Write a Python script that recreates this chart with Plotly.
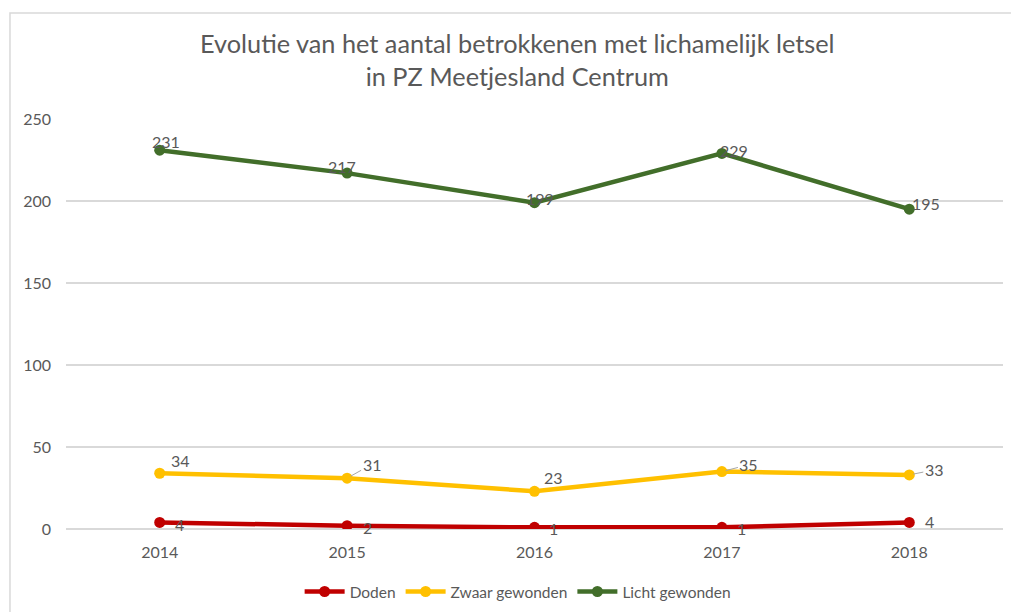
import plotly.graph_objects as go

years = ["2014", "2015", "2016", "2017", "2018"]
doden = [4, 2, 1, 1, 4]
zwaar = [34, 31, 23, 35, 33]
licht = [231, 217, 199, 229, 195]
series_names = ["Doden", "Zwaar gewonden", "Licht gewonden"]
title_lines = ["Evolutie van het aantal betrokkenen met lichamelijk letsel", "in PZ Meetjesland Centrum"]

colors = ["#C00000", "#FFC000", "#426E2A"]
FONT = "Lato"
TXT = "#595959"

fig = go.Figure()
for name, vals, col in zip(series_names, [doden, zwaar, licht], colors):
    fig.add_trace(go.Scatter(
        x=years, y=vals, name=name, mode="lines+markers",
        line=dict(color=col, width=4.5),
        marker=dict(color=col, size=11),
        hoverinfo="x+y+name",
    ))

# label offsets (pixels) per series: (xshift, yshift, leader)
licht_off = [(6, 9, False), (-5, 7, False), (5, 4, False), (12, 3, False), (17, 6, False)]
zwaar_off = [(21, 13, False), (25, 14, True), (19, 14, False), (27, 7, True), (25, 5, True)]
doden_off = [(20, -2, False), (20, -2, False), (19, -1, False), (20, -1, False), (20, 1, False)]

annotations = []
for vals, offs in [(licht, licht_off), (zwaar, zwaar_off), (doden, doden_off)]:
    for i, (v, (dx, dy, leader)) in enumerate(zip(vals, offs)):
        if leader:
            annotations.append(dict(
                x=i, y=v, xref="x", yref="y", text=str(v), showarrow=True,
                ax=dx, ay=-dy, arrowhead=0, arrowwidth=1, arrowcolor="#A6A6A6",
                standoff=4, startstandoff=0,
                font=dict(family=FONT, size=16, color=TXT),
            ))
        else:
            annotations.append(dict(
                x=i, y=v, xref="x", yref="y", text=str(v), showarrow=False,
                xshift=dx, yshift=dy,
                font=dict(family=FONT, size=16, color=TXT),
            ))

annotations.append(dict(
    x=0.482, y=1.0, xref="paper", yref="paper", yanchor="bottom",
    yshift=26, text="<br>".join(title_lines), showarrow=False,
    font=dict(family=FONT, size=25.3, color=TXT),
))

fig.update_layout(
    width=1011, height=612,
    margin=dict(l=66, r=8, t=119, b=83, autoexpand=False),
    paper_bgcolor="white", plot_bgcolor="white",
    font=dict(family=FONT, size=15, color=TXT),
    showlegend=True,
    legend=dict(orientation="h", x=0.482, xanchor="center", y=-0.112, yanchor="top",
                font=dict(family=FONT, size=15.5, color=TXT), itemwidth=40,
                traceorder="normal"),
    annotations=annotations,
    shapes=[dict(type="rect", xref="paper", yref="paper",
                 x0=-0.0598, x1=1.2, y0=-0.5, y1=1.2585,
                 line=dict(color="#D9D9D9", width=1.5), layer="below")],
)
fig.update_xaxes(type="category", range=[-0.5, 4.5], showgrid=False, automargin=False,
                 showline=False, zeroline=False, ticks="",
                 tickfont=dict(family=FONT, size=16, color=TXT), ticklabelstandoff=12)
fig.update_yaxes(range=[0, 250], dtick=50, showgrid=True, gridcolor="#D9D9D9", automargin=False,
                 gridwidth=1.5, zeroline=True, zerolinecolor="#D9D9D9", zerolinewidth=1.5,
                 showline=False, ticks="",
                 tickfont=dict(family=FONT, size=16, color=TXT), ticklabelstandoff=14)

fig.write_html("out.html", config={"displayModeBar": False},
               post_script="document.body.style.margin='0';document.body.style.overflow='hidden';")
